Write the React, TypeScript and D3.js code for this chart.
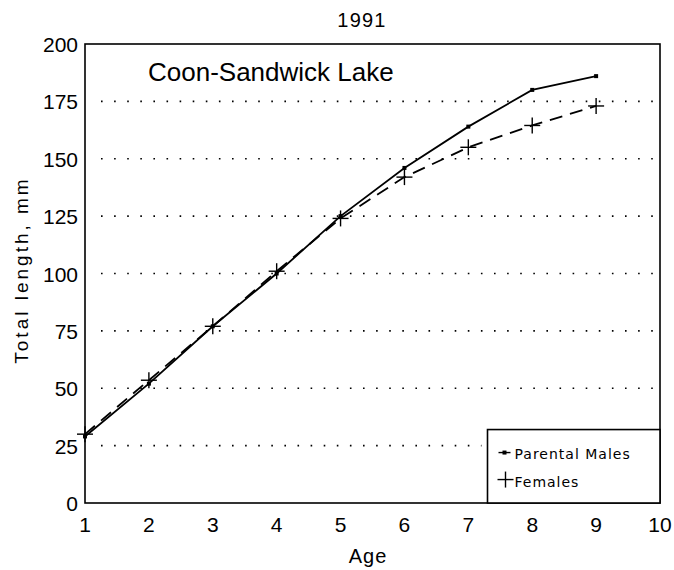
import * as d3 from 'd3';
import React from 'react';

const ages = [1, 2, 3, 4, 5, 6, 7, 8, 9];
const parentalMales = [29, 52, 77, 100, 125, 146, 164, 180, 186];
const females = [30, 53.5, 77, 101, 124, 142, 155, 164.5, 173];
const yTicks = [0, 25, 50, 75, 100, 125, 150, 175, 200];
const xTicks = [1, 2, 3, 4, 5, 6, 7, 8, 9, 10];
const gridValues = [25, 50, 75, 100, 125, 150, 175];

const W = 674;
const H = 570;
const margin = { top: 44, right: 14, bottom: 67, left: 85 };
const font = '"Liberation Sans", Arial, sans-serif';
const legendFont = '"DejaVu Sans", sans-serif';

export default function App() {
  const innerW = W - margin.left - margin.right;
  const innerH = H - margin.top - margin.bottom;

  const x = d3.scaleLinear().domain([1, 10]).range([0, innerW]);
  const y = d3.scaleLinear().domain([0, 200]).range([innerH, 0]);

  const line = d3
    .line<number>()
    .x((_, i) => x(ages[i]))
    .y((d) => y(d));

  // legend box sits against the lower right corner
  const legX = x(7.3);
  const legY = y(32);

  return (
    <div style={{ position: 'absolute', left: 0, top: 0 }}>
      <svg width={W} height={H} style={{ display: 'block', background: '#fff' }}>
        <text x={362} y={27} textAnchor="middle" fontFamily={font} fontSize={20} letterSpacing={1.2} fill="#000">
          1991
        </text>
        <g transform={`translate(${margin.left},${margin.top})`}>
          {gridValues.map((v) => (
            <line
              key={v}
              x1={16}
              x2={v === 25 ? legX - 6 : innerW - 6}
              y1={y(v)}
              y2={y(v)}
              stroke="#000"
              strokeWidth={1.6}
              strokeDasharray="1.6,11.5"
            />
          ))}
          <rect x={0} y={0} width={innerW} height={innerH} fill="none" stroke="#000" strokeWidth={1.6} />
          <text x={63} y={37} fontFamily={font} fontSize={26} fill="#000">
            Coon-Sandwick Lake
          </text>

          <path d={line(parentalMales) ?? ''} fill="none" stroke="#000" strokeWidth={1.8} />
          <path
            d={line(females) ?? ''}
            fill="none"
            stroke="#000"
            strokeWidth={1.8}
            strokeDasharray="13,8"
          />
          {parentalMales.map((v, i) => (
            <rect key={i} x={x(ages[i]) - 2} y={y(v) - 2} width={4} height={4} fill="#000" />
          ))}
          {females.map((v, i) => (
            <g key={i} transform={`translate(${x(ages[i])},${y(v)})`} stroke="#000" strokeWidth={1.4}>
              <line x1={-8} x2={8} y1={0} y2={0} />
              <line x1={0} x2={0} y1={-8} y2={8} />
            </g>
          ))}

          {/* legend */}
          <rect
            x={legX}
            y={legY}
            width={innerW - legX}
            height={innerH - legY}
            fill="#fff"
            stroke="#000"
            strokeWidth={1.6}
          />
          <line x1={legX + 11} x2={legX + 23} y1={legY + 23} y2={legY + 23} stroke="#000" strokeWidth={1.4} />
          <rect x={legX + 15} y={legY + 21} width={4} height={4} fill="#000" />
          <text x={legX + 27} y={legY + 29} fontFamily={legendFont} fontSize={14} letterSpacing={1} fill="#000">
            Parental Males
          </text>
          <g transform={`translate(${legX + 18},${legY + 50})`} stroke="#000" strokeWidth={1.4}>
            <line x1={-8} x2={8} y1={0} y2={0} />
            <line x1={0} x2={0} y1={-8} y2={8} />
          </g>
          <text x={legX + 27} y={legY + 57} fontFamily={legendFont} fontSize={14} letterSpacing={1} fill="#000">
            Females
          </text>

          {yTicks.map((v) => (
            <text key={v} x={-7} y={y(v) + 8} textAnchor="end" fontFamily={font} fontSize={21} fill="#000">
              {v}
            </text>
          ))}
          {xTicks.map((v) => (
            <text key={v} x={x(v)} y={innerH + 29} textAnchor="middle" fontFamily={font} fontSize={21} fill="#000">
              {v}
            </text>
          ))}
          <text x={368 - margin.left} y={innerH + 60} textAnchor="middle" fontFamily={font} fontSize={20} letterSpacing={1} fill="#000">
            Age
          </text>
        </g>
        <text
          transform="translate(28,270) rotate(-90)"
          textAnchor="middle"
          fontFamily={font}
          fontSize={19}
          letterSpacing={3}
          fill="#000"
        >
          Total length, mm
        </text>
      </svg>
    </div>
  );
}
